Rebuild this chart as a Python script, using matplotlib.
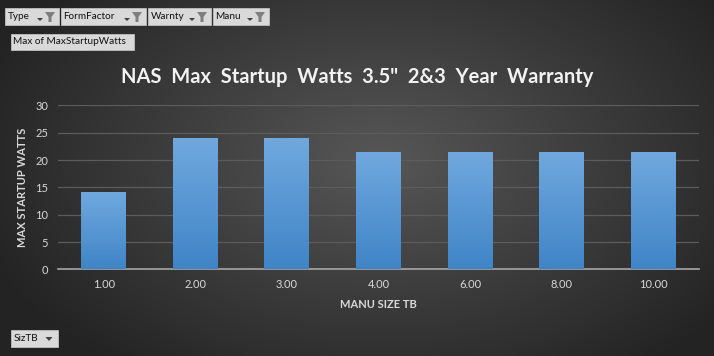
import numpy as np
import matplotlib
matplotlib.use("Agg")
import matplotlib.pyplot as plt
from matplotlib.patches import Rectangle, Polygon

# chart data
sizes = ["1.00", "2.00", "3.00", "4.00", "6.00", "8.00", "10.00"]
max_watts = [14.2, 24.0, 24.0, 21.5, 21.5, 21.5, 21.5]
filter_buttons = ["Type", "FormFactor", "Warnty", "Manu"]

plt.rcParams['font.family'] = ['Lato', 'DejaVu Sans']

fig = plt.figure(figsize=(7.14, 3.56), dpi=100)

# dark radial background
bg = fig.add_axes([0, 0, 1, 1], zorder=-10)
yy, xx = np.mgrid[0:356, 0:714]
d = np.sqrt(((xx - 380) / 420.0) ** 2 + ((yy - 160) / 260.0) ** 2)
shade = np.clip(0.34 - 0.2 * d, 0.14, 0.34)
bg.imshow(np.dstack([shade, shade, shade]), aspect="auto", extent=[0, 1, 0, 1])
bg.axis("off")

ax = fig.add_axes([0.081, 0.243, 0.898, 0.461])
ax.patch.set_alpha(0)
x = np.arange(len(sizes))
bars = ax.bar(x, max_watts, width=0.49, color="#5b9bd5", zorder=3)

# vertical gradient inside each bar
grad = np.linspace(0, 1, 100).reshape(-1, 1)
top = np.array([0.44, 0.66, 0.87])
bottom = np.array([0.25, 0.52, 0.78])
img = top + (bottom - top) * grad[..., None]
for b in bars:
    im = ax.imshow(img, aspect="auto", zorder=4,
                   extent=[b.get_x(), b.get_x() + b.get_width(), 0, b.get_height()])
    im.set_clip_path(b)

ax.set_xlim(-0.5, len(sizes) - 0.5)
ax.set_ylim(0, 30)
ax.set_yticks(range(0, 31, 5))
ax.set_xticks(x)
ax.set_xticklabels(sizes)
ax.grid(axis="y", color="#5c5c5c", linewidth=0.9, zorder=0)
for s in ["top", "right", "left"]:
    ax.spines[s].set_visible(False)
ax.spines["bottom"].set_color("#a6a6a6")
ax.spines["bottom"].set_linewidth(1.2)
ax.tick_params(length=0, colors="#d9d9d9", labelsize=8)
ax.tick_params(axis="x", pad=7)
ax.tick_params(axis="y", pad=7)
ax.set_xlabel("MANU SIZE TB", color="#d9d9d9", fontsize=8, fontweight="bold", labelpad=6)
ax.set_ylabel("MAX STARTUP WATTS", color="#d9d9d9", fontsize=8, fontweight="bold", labelpad=5)

fig.text(0.5, 0.783, 'NAS  Max  Startup  Watts  3.5"  2&3  Year  Warranty',
         ha="center", va="center", color="#f2f2f2", fontsize=14.5, fontweight="bold")

# pivot-chart filter buttons
def px(x0, y0):
    return (x0 / 714, 1 - y0 / 356)

def button(x0, y0, w, h, label, arrow=False, funnel=False):
    fig.patches.append(Rectangle(px(x0, y0 + h), w / 714, h / 356,
                                 transform=fig.transFigure, facecolor="#d9d9d9",
                                 edgecolor="#bfbfbf", linewidth=0.6))
    fig.text((x0 + 2.5) / 714, 1 - (y0 + h / 2) / 356, label, fontsize=7.2,
             color="#111111", va="center", ha="left")
    if funnel:
        fx = x0 + w - 9
        fig.patches.append(Polygon([px(fx - 5, y0 + 4), px(fx + 5, y0 + 4), px(fx + 1.5, y0 + 9),
                                    px(fx + 1.5, y0 + 14), px(fx - 1.5, y0 + 14), px(fx - 1.5, y0 + 9)],
                                   closed=True, transform=fig.transFigure,
                                   facecolor="#7f7f7f", edgecolor="none"))
        ax_ = fx - 10
        fig.patches.append(Polygon([px(ax_ - 3, y0 + 10), px(ax_ + 3, y0 + 10), px(ax_, y0 + 13)],
                                   closed=True, transform=fig.transFigure,
                                   facecolor="#404040", edgecolor="none"))
    elif arrow:
        ax_ = x0 + w - 9
        fig.patches.append(Polygon([px(ax_ - 3.5, y0 + 7), px(ax_ + 3.5, y0 + 7), px(ax_, y0 + 11)],
                                   closed=True, transform=fig.transFigure,
                                   facecolor="#404040", edgecolor="none"))

button_pos = [(5, 54), (61, 85), (148, 63), (213, 56)]
for (bx, bw), name in zip(button_pos, filter_buttons):
    button(bx, 8, bw, 17, name, funnel=True)
button(11, 34, 123, 16, "Max of MaxStartupWatts")
button(11, 330, 47, 17, "SizTB", arrow=True)

fig.savefig("out.png", dpi=100)
